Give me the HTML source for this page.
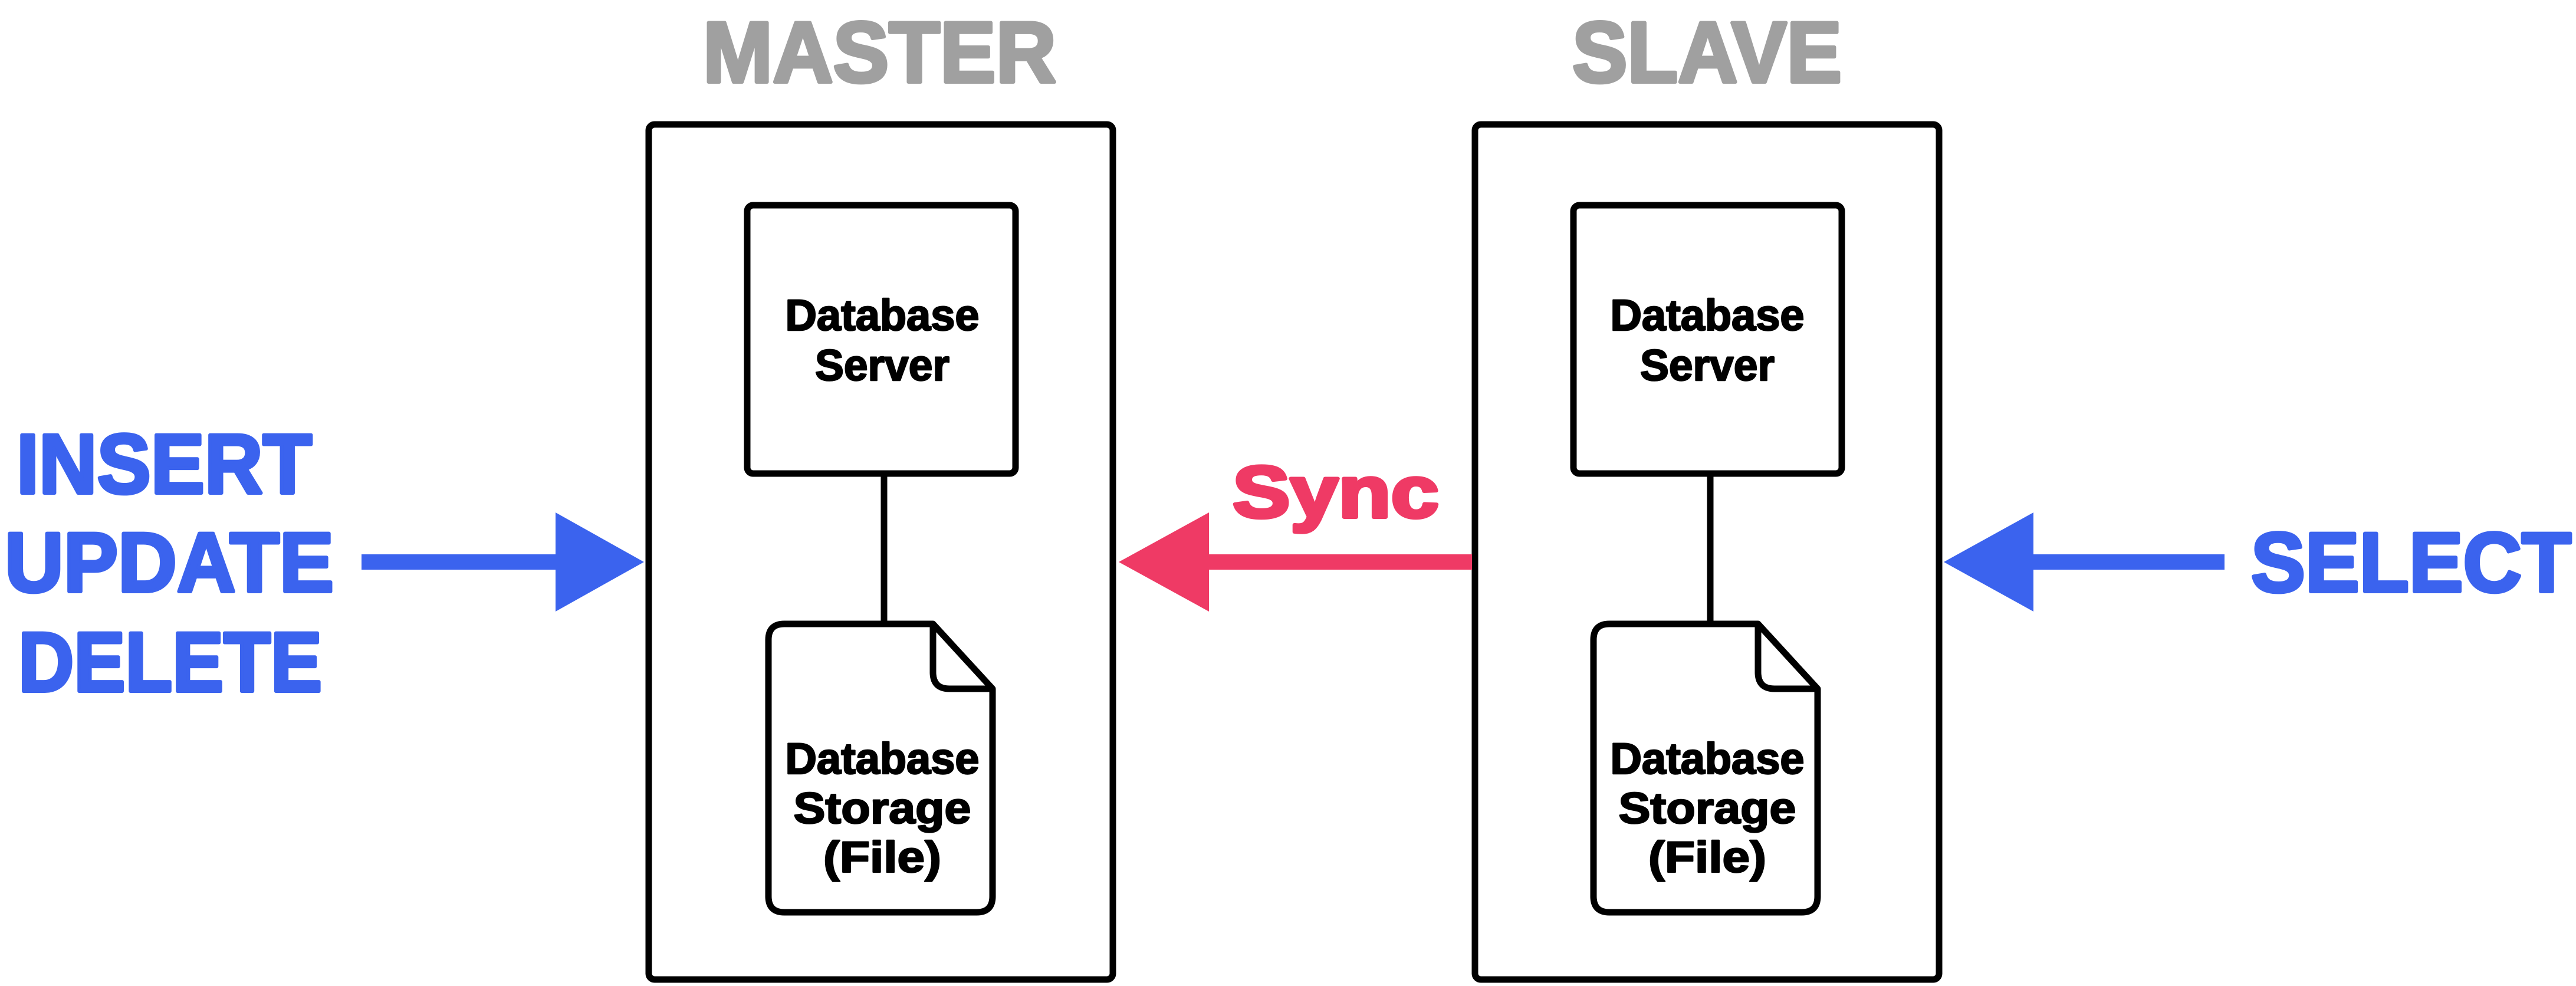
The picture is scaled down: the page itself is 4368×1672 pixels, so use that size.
<!DOCTYPE html>
<html><head><meta charset="utf-8"><style>
html,body{margin:0;padding:0;background:#fff;}
svg{display:block;}
text{font-family:"Liberation Sans",sans-serif;font-weight:bold;stroke-linejoin:round;}
</style></head><body>
<svg width="4368" height="1672" viewBox="0 0 4368 1672" xmlns="http://www.w3.org/2000/svg">
<text x="1192" y="139" font-size="146" fill="#a0a0a0" stroke="#a0a0a0" stroke-width="6" textLength="599" lengthAdjust="spacingAndGlyphs">MASTER</text>
<text x="2666" y="139" font-size="146" fill="#a0a0a0" stroke="#a0a0a0" stroke-width="6" textLength="457" lengthAdjust="spacingAndGlyphs">SLAVE</text>

<g fill="none" stroke="#000" stroke-width="11" stroke-linejoin="round">
  <rect x="1100" y="211" width="787" height="1450" rx="10"/>
  <rect x="1267" y="348" width="455" height="455" rx="10"/>
  <line x1="1499" y1="803" x2="1499" y2="1058"/>
  <path d="M1330 1058 H1582 L1683 1168 V1520 Q1683 1547 1656 1547 H1330 Q1303 1547 1303 1520 V1085 Q1303 1058 1330 1058 Z"/>
  <path d="M1582 1058 V1140 Q1582 1168 1610 1168 H1683"/>
  <rect x="2501" y="211" width="787" height="1450" rx="10"/>
  <rect x="2668" y="348" width="455" height="455" rx="10"/>
  <line x1="2900" y1="803" x2="2900" y2="1058"/>
  <path d="M2729 1058 H2981 L3082 1168 V1520 Q3082 1547 3055 1547 H2729 Q2702 1547 2702 1520 V1085 Q2702 1058 2729 1058 Z"/>
  <path d="M2981 1058 V1140 Q2981 1168 3009 1168 H3082"/>
</g>

<g font-size="74" fill="#000" stroke="#000" stroke-width="2.5" text-anchor="middle">
  <text x="1496" y="560" textLength="329" lengthAdjust="spacingAndGlyphs">Database</text>
  <text x="1496" y="645" textLength="228" lengthAdjust="spacingAndGlyphs">Server</text>
  <text x="1496" y="1312" textLength="329" lengthAdjust="spacingAndGlyphs">Database</text>
  <text x="1496" y="1396" textLength="301" lengthAdjust="spacingAndGlyphs">Storage</text>
  <text x="1496" y="1479" textLength="200" lengthAdjust="spacingAndGlyphs">(File)</text>
  <text x="2895" y="560" textLength="329" lengthAdjust="spacingAndGlyphs">Database</text>
  <text x="2895" y="645" textLength="228" lengthAdjust="spacingAndGlyphs">Server</text>
  <text x="2895" y="1312" textLength="329" lengthAdjust="spacingAndGlyphs">Database</text>
  <text x="2895" y="1396" textLength="301" lengthAdjust="spacingAndGlyphs">Storage</text>
  <text x="2895" y="1479" textLength="200" lengthAdjust="spacingAndGlyphs">(File)</text>
</g>

<rect x="613" y="940" width="335" height="26" fill="#3b63ee"/>
<polygon points="942,869 1092,953 942,1037" fill="#3b63ee"/>
<g font-size="143" fill="#3b63ee" stroke="#3b63ee" stroke-width="6">
  <text x="28" y="836" textLength="501" lengthAdjust="spacingAndGlyphs">INSERT</text>
  <text x="8" y="1003" textLength="558" lengthAdjust="spacingAndGlyphs">UPDATE</text>
  <text x="31" y="1172" textLength="515" lengthAdjust="spacingAndGlyphs">DELETE</text>
</g>

<rect x="2045" y="940" width="451" height="26" fill="#ef3a65"/>
<polygon points="2050,869 1897,953 2050,1037" fill="#ef3a65"/>
<text x="2090" y="877" font-size="124" fill="#ef3a65" stroke="#ef3a65" stroke-width="6" textLength="350" lengthAdjust="spacingAndGlyphs">Sync</text>

<rect x="3443" y="940" width="329" height="26" fill="#3b63ee"/>
<polygon points="3448,869 3296,953 3448,1037" fill="#3b63ee"/>
<text x="3817" y="1003" font-size="143" fill="#3b63ee" stroke="#3b63ee" stroke-width="6" textLength="543" lengthAdjust="spacingAndGlyphs">SELECT</text>
</svg>
</body></html>
